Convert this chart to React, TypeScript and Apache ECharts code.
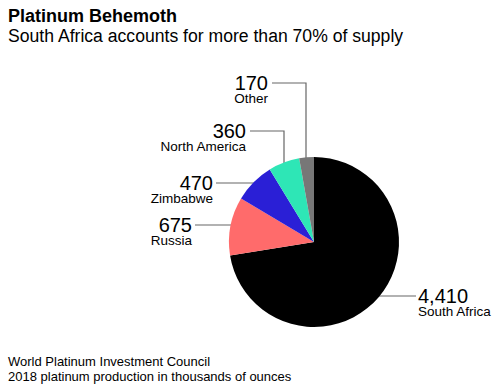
import React, { useEffect, useRef } from "react";
import * as echarts from "echarts";

const categories = ["South Africa", "Russia", "Zimbabwe", "North America", "Other"];
const values = [4410, 675, 470, 360, 170];
const valueLabels = ["4,410", "675", "470", "360", "170"];
const colors = ["#000000", "#ff6b6b", "#2a1fd6", "#2ee6b6", "#777777"];
// label anchor: [line y, text x edge, side]
const labelLineY = [296, 225, 183, 131, 83];
const labelTextX = [418, 192, 213, 246, 268];
const labelElbowX = [0, 0, 0, 284, 306];

const CX = 314;
const CY = 242;
const R = 85;

export default function App() {
  const ref = useRef<HTMLDivElement>(null);
  useEffect(() => {
    if (!ref.current) return;
    const chart = echarts.init(ref.current, null, { renderer: "svg" });
    const font = "'Liberation Sans', Arial, Helvetica, sans-serif";
    chart.setOption({
      animation: false,
      backgroundColor: "#ffffff",
      title: [
        {
          text: "Platinum Behemoth",
          left: 3,
          top: 2,
          textStyle: { fontFamily: font, fontSize: 18, fontWeight: "bold", color: "#000" },
        },
        {
          text: "South Africa accounts for more than 70% of supply",
          left: 3,
          top: 22,
          textStyle: { fontFamily: font, fontSize: 17.6, fontWeight: "normal", color: "#000" },
        },
        {
          text: "World Platinum Investment Council\n2018 platinum production in thousands of ounces",
          left: 3,
          top: 349,
          textStyle: { fontFamily: font, fontSize: 13, fontWeight: "normal", color: "#000", lineHeight: 15 },
        },
      ],
      series: [
        {
          type: "pie",
          center: [CX, CY],
          radius: [0, R],
          startAngle: 90,
          clockwise: true,
          data: categories.map((c, i) => ({
            name: c,
            value: values[i],
            itemStyle: { color: colors[i] },
          })),
          label: {
            show: true,
            overflow: "none",
            formatter: (p: any) => `{v|${valueLabels[p.dataIndex]}}\n{n|${p.name}}`,
            rich: {
              v: { fontFamily: font, fontSize: 20, lineHeight: 18, color: "#000" },
              n: { fontFamily: font, fontSize: 13.5, lineHeight: 13, color: "#000" },
            },
          },
          labelLine: {
            show: true,
            lineStyle: { color: "#666666", width: 1.2 },
          },
          labelLayout: (p: any) => {
            const i = p.dataIndex;
            const ly = labelLineY[i];
            const tx = labelTextX[i];
            const top = ly - 9;
            if (i === 0) {
              const ex = CX + Math.sqrt(R * R - (ly - CY) * (ly - CY));
              return {
                x: tx,
                y: top,
                align: "left",
                verticalAlign: "top",
                labelLinePoints: [[ex - 1, ly], [ex + 10, ly], [tx - 2, ly]],
              };
            }
            if (labelElbowX[i]) {
              const ex = labelElbowX[i];
              const ey = CY - Math.sqrt(R * R - (ex - CX) * (ex - CX));
              return {
                x: tx,
                y: top,
                align: "right",
                verticalAlign: "top",
                labelLinePoints: [[ex, ey + 1], [ex, ly], [tx + 4, ly]],
              };
            }
            const ex = CX - Math.sqrt(R * R - (ly - CY) * (ly - CY));
            return {
              x: tx,
              y: top,
              align: "right",
              verticalAlign: "top",
              labelLinePoints: [[ex + 1, ly], [ex - 8, ly], [tx + 3, ly]],
            };
          },
        },
      ],
    });
    return () => chart.dispose();
  }, []);
  return (
    <div
      ref={ref}
      style={{ position: "absolute", left: 0, top: 0, width: 499, height: 384 }}
    />
  );
}
